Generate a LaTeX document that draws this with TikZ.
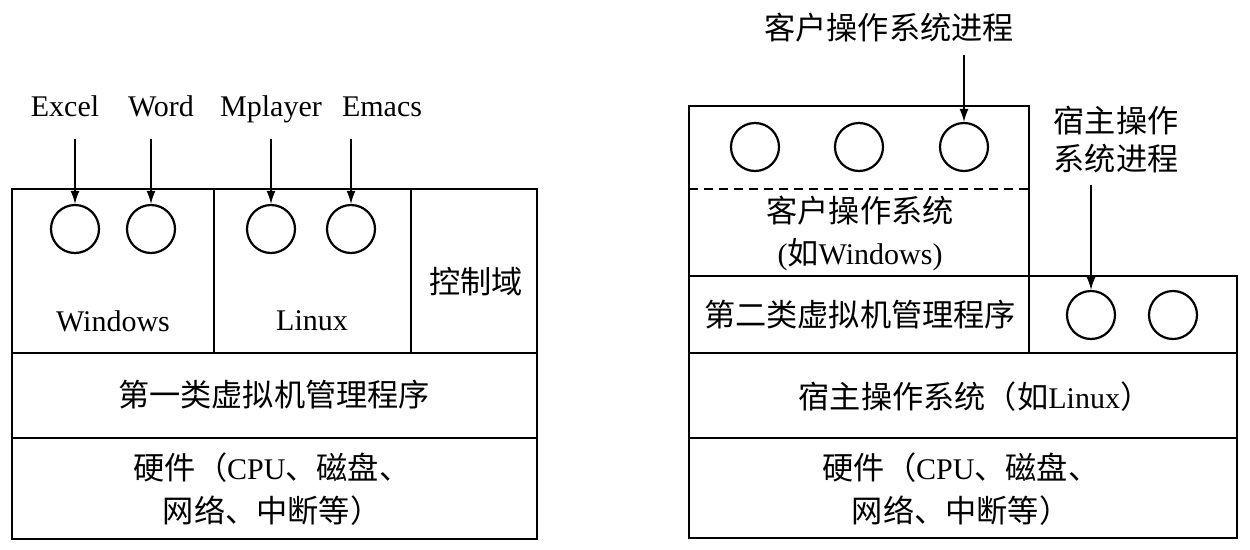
\documentclass[tikz,border=0pt]{standalone}
\usepackage{fontspec}
\setmainfont{Liberation Serif}
\newfontfamily\cjk[Scale=1.04]{Noto Sans CJK SC}
\usetikzlibrary{arrows.meta}

\begin{document}
\begin{tikzpicture}
        [%%%%%%%%%%%%%%%%%%%%%%%%%%%%%%
            x=1pt,y=-1pt,
            box/.style={line width=2.8pt},
            proc/.style={circle,draw=black,line width=2.2pt,minimum size=48pt,inner sep=0pt},
            lbl/.style={font=\fontsize{30}{43}\selectfont,inner sep=0pt,align=center},
            call/.style={-{Latex[length=13pt,width=9pt]},line width=1.4pt},
        ]%%%%%%%%%%%%%%%%%%%%%%%%%%%%%%
        \useasboundingbox (0,0) rectangle (1250,549);

        % type 1
        \draw[box] (12,189) rectangle (537,539);
        \draw[box] (214,189) -- (214,353);
        \draw[box] (411,189) -- (411,353);
        \draw[box] (12,353) -- (537,353);
        \draw[box] (12,438) -- (537,438);

        \foreach \x/\n in {75/p1,151/p2,271/p3,351/p4}{
            \node[proc] (\n) at (\x,229){};
            \coordinate (\n top) at (\x,139);
            \draw[call] (\n top) -- (\n);
        }
        \node[lbl,anchor=base] (excel) at (65,116){Excel};
        \node[lbl,anchor=base] (word) at (161,116){Word};
        \node[lbl,anchor=base] (mplayer) at (271,116){Mplayer};
        \node[lbl,anchor=base] (emacs) at (382,116){Emacs};

        \node[lbl] (win) at (113,321){Windows};
        \node[lbl] (lnx) at (312,321){Linux};
        \node[lbl] (dom0) at (476,282){\cjk 控制域};
        \node[lbl] (hv1) at (274,395){\cjk 第一类虚拟机管理程序};
        \node[lbl] (hw1) at (272,489){{\cjk 硬件（}CPU{\cjk 、磁盘、}\\{\cjk 网络、中断等）}};

        % type 2
        \draw[box] (689,106) rectangle (1029,276);
        \draw[box,dash pattern=on 9pt off 6pt] (689,189) -- (1029,189);
        \draw[box] (689,276) rectangle (1237,538);
        \draw[box] (1029,276) -- (1029,353);
        \draw[box] (689,353) -- (1237,353);
        \draw[box] (689,438) -- (1237,438);

        \foreach \x/\n in {755/g1,859/g2,964/g3}{
            \node[proc] (\n) at (\x,147){};
        }
        \foreach \x/\n in {1091/h1,1173/h2}{
            \node[proc] (\n) at (\x,315){};
        }
        \node[lbl] (guestproc) at (889,28){\cjk 客户操作系统进程};
        \coordinate (g3 top) at (964,55);
        \draw[call] (g3 top) -- (g3);
        \node[lbl,font=\fontsize{30}{38}\selectfont] (hostproc) at (1116,140){\cjk 宿主操作\\\cjk 系统进程};
        \coordinate (h1 top) at (1091,185);
        \draw[call] (h1 top) -- (h1);

        \node[lbl,font=\fontsize{30}{42}\selectfont] (guest) at (860,233){\cjk 客户操作系统\\(\cjk 如\rmfamily Windows)};
        \node[lbl] (hv2) at (860,315){\cjk 第二类虚拟机管理程序};
        \node[lbl] (host) at (975,397){{\cjk 宿主操作系统（如}Linux{\cjk ）}};
        \node[lbl] (hw2) at (961,489){{\cjk 硬件（}CPU{\cjk 、磁盘、}\\{\cjk 网络、中断等）}};
    \end{tikzpicture}
\end{document}
